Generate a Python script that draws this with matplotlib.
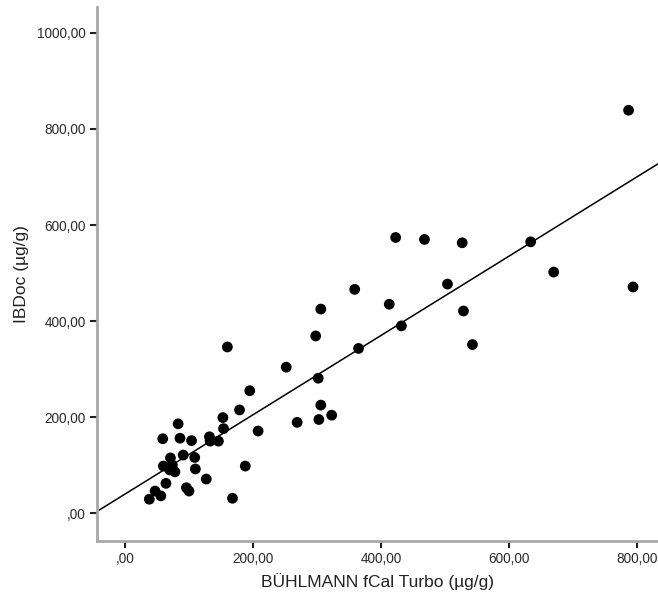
import numpy as np
import matplotlib
matplotlib.use("Agg")
import matplotlib.pyplot as plt
from matplotlib.ticker import FuncFormatter

plt.rcParams['font.family'] = ['Liberation Sans', 'DejaVu Sans']

# === data ===
fcal = [38, 47, 56, 64, 96, 100, 168, 127, 60, 71, 74, 70, 78, 110, 91, 109,
        59, 86, 104, 83, 132, 133, 146, 153, 154, 179, 208, 188, 195, 160,
        252, 269, 302, 298, 306, 306, 303, 323, 365, 359, 413, 423, 432, 468,
        504, 527, 529, 543, 634, 670, 787, 794]
ibdoc = [29, 46, 36, 62, 53, 46, 31, 71, 98, 115, 100, 90, 86, 92, 121, 116,
         155, 156, 151, 186, 159, 150, 150, 199, 176, 215, 171, 98, 255, 346,
         304, 189, 281, 369, 425, 225, 195, 204, 343, 466, 435, 574, 390, 570,
         477, 563, 421, 351, 565, 502, 839, 471]
x_ticks = [0, 200, 400, 600, 800]
y_ticks = [0, 200, 400, 600, 800, 1000]


def comma_fmt(v, pos=None):
    s = f"{v:.2f}".replace(".", ",")
    if s.startswith("0,"):
        s = s[1:]
    return s


fig = plt.figure(figsize=(6.58, 5.99), dpi=100)
ax = fig.add_axes([97 / 658, 58 / 599, 561 / 658, 534 / 599])

x_lim = (-43.75, 833)
y_lim = (-58, 1054)

# linear fit line across the whole x range
slope, intercept = np.polyfit(fcal, ibdoc, 1)
xx = np.array(x_lim)
ax.plot(xx, intercept + slope * xx, color="black", lw=1.1, zorder=2)

ax.scatter(fcal, ibdoc, s=60, color="black", edgecolors="none", zorder=3)

ax.set_xlim(*x_lim)
ax.set_ylim(*y_lim)
ax.set_xticks(x_ticks)
ax.set_yticks(y_ticks)
ax.xaxis.set_major_formatter(FuncFormatter(comma_fmt))
ax.yaxis.set_major_formatter(FuncFormatter(comma_fmt))

for side in ["top", "right"]:
    ax.spines[side].set_visible(False)
for side in ["left", "bottom"]:
    ax.spines[side].set_color("#a8a8a8")
    ax.spines[side].set_linewidth(2)

ax.tick_params(axis="both", direction="out", length=5, width=1.5, color="#222222",
               labelsize=9.8, labelcolor="#2a2a2a", pad=3)
ax.tick_params(axis="x", pad=3)

ax.set_xlabel("BÜHLMANN fCal Turbo (µg/g)", fontsize=12.5, color="#222222", labelpad=5)
ax.set_ylabel("IBDoc (µg/g)", fontsize=12.5, color="#222222", labelpad=6)

fig.savefig("out.png", dpi=100)
